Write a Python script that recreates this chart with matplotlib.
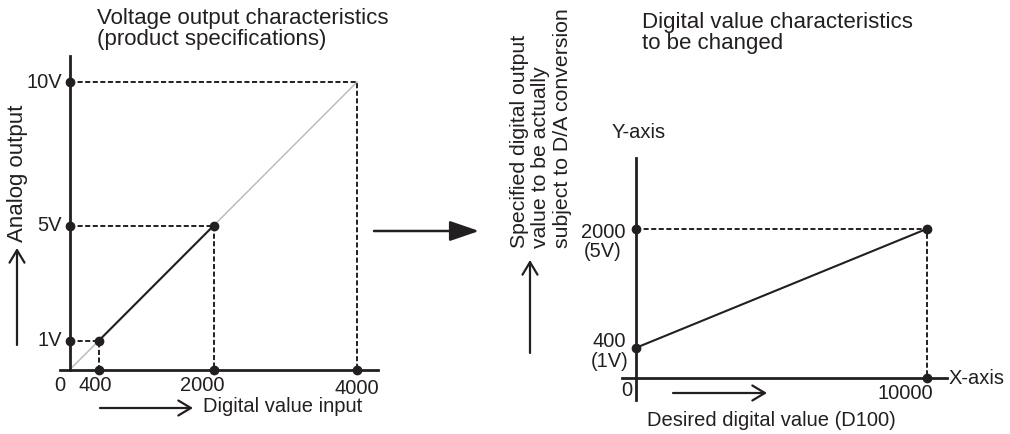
import matplotlib
matplotlib.use("Agg")
import matplotlib.pyplot as plt

plt.rcParams['font.family'] = ['Liberation Sans', 'DejaVu Sans']

INK = '#231f20'

# ---- data: voltage output characteristics (product specs)
spec_x = [0, 4000]          # digital input range
spec_y = [0, 10]            # analog output (V)
used_x = [400, 2000]        # part actually used
used_y = [1, 5]
left_xticks = [400, 2000, 4000]
left_xlabels = ['400', '2000', '4000']
left_yticks = [1, 5, 10]
left_ylabels = ['1V', '5V', '10V']

# ---- data: digital value characteristics to be changed
new_x = [0, 10000]          # desired digital value (D100)
new_y = [400, 2000]         # digital output actually converted
right_ylabels = ['400\n(1V)', '2000\n(5V)']

W, H = 1010, 434
fig = plt.figure(figsize=(W / 100, H / 100), dpi=100)


def pixel_axes(x0, y0, px_x, px_y, xlim, ylim):
    # x0, y0 = pixel position of the data origin (from top-left)
    left = x0 + xlim[0] * px_x
    right = x0 + xlim[1] * px_x
    top = y0 - ylim[1] * px_y
    bottom = y0 - ylim[0] * px_y
    ax = fig.add_axes([left / W, 1 - bottom / H, (right - left) / W, (bottom - top) / H])
    ax.set_xlim(xlim)
    ax.set_ylim(ylim)
    ax.patch.set_visible(False)
    for s in ['top', 'right']:
        ax.spines[s].set_visible(False)
    for s in ['left', 'bottom']:
        ax.spines[s].set_position(('data', 0))
        ax.spines[s].set_linewidth(2.0)
        ax.spines[s].set_color(INK)
    ax.set_xticks([])
    ax.set_yticks([])
    return ax


dash = dict(color=INK, lw=1.4, dashes=(2.6, 1.3))
dot = dict(marker='o', ms=6, color=INK, ls='none', clip_on=False, zorder=5)
fs = 14.5

# ================= left diagram
axl = pixel_axes(70, 369.5, 287 / 4000, 28.75, (-140, 4290), (0, 10.9))
axl.plot(spec_x, spec_y, color='#bdbdbd', lw=1.1, clip_on=False)
for xv, yv in zip([used_x[0], used_x[1], spec_x[1]], [used_y[0], used_y[1], spec_y[1]]):
    axl.plot([0, xv, xv], [yv, yv, 0], clip_on=False, **dash)
axl.plot(used_x, used_y, color=INK, lw=1.5, clip_on=False)
axl.plot([0] * len(left_yticks), left_yticks, **dot)
axl.plot(left_xticks, [0] * len(left_xticks), **dot)
axl.plot(used_x, used_y, **dot)

for yv, lab in zip(left_yticks, left_ylabels):
    axl.annotate(lab, (0, yv), xytext=(-8, 0), textcoords='offset pixels',
                 ha='right', va='center', fontsize=fs, color=INK)
axl.annotate('0', (0, 0), xytext=(-10, -16), textcoords='offset pixels',
             ha='center', va='center', fontsize=fs, color=INK)
for xv, lab, off in zip(left_xticks, left_xlabels, [(-3, -16), (-11, -16), (0, -19)]):
    axl.annotate(lab, (xv, 0), xytext=off, textcoords='offset pixels',
                 ha='center', va='center', fontsize=fs, color=INK)

# ================= right diagram
axr = pixel_axes(636, 377.5, 290.5 / 10000, 148.5 / 2000, (-480, 10700), (-300, 2950))
axr.plot([0, new_x[1], new_x[1]], [new_y[1], new_y[1], 0], clip_on=False, **dash)
axr.plot(new_x, new_y, color=INK, lw=1.5, clip_on=False)
axr.plot([0, 0], new_y, **dot)
axr.plot([new_x[1], new_x[1]], [new_y[1], 0], **dot)

for yv, lab, off in zip(new_y, right_ylabels, [(-8, -4), (-11, -13)]):
    axr.annotate(lab, (0, yv), xytext=off, textcoords='offset pixels',
                 ha='right', va='center', multialignment='center',
                 fontsize=fs, color=INK, linespacing=1.05)
axr.annotate('0', (0, 0), xytext=(-9, -13), textcoords='offset pixels',
             ha='center', va='center', fontsize=fs, color=INK)
axr.annotate(str(new_x[1]), (new_x[1], 0), xytext=(-21, -16), textcoords='offset pixels',
             ha='center', va='center', fontsize=fs, color=INK)

# ================= overlay for titles, captions and arrows (pixel coords)
ov = fig.add_axes([0, 0, 1, 1])
ov.set_xlim(0, W)
ov.set_ylim(H, 0)
ov.axis('off')
ov.patch.set_visible(False)

tfs = 16
ov.text(97, 8, 'Voltage output characteristics\n(product specifications)',
        ha='left', va='top', fontsize=tfs, color=INK, linespacing=1.0)
ov.text(642, 12, 'Digital value characteristics\nto be changed',
        ha='left', va='top', fontsize=tfs, color=INK, linespacing=1.0)
ov.text(18, 173, 'Analog output', rotation=90, ha='center', va='center',
        fontsize=tfs, color=INK)
ov.text(541, 248, 'Specified digital output\nvalue to be actually\nsubject to D/A conversion',
        rotation=90, ha='center', va='bottom', multialignment='left',
        fontsize=15.3, color=INK, linespacing=1.15)
ov.text(612, 132, 'Y-axis', ha='left', va='center', fontsize=fs, color=INK)
ov.text(949, 379, 'X-axis', ha='left', va='center', fontsize=fs, color=INK)
ov.text(203, 406, 'Digital value input', ha='left', va='center', fontsize=fs, color=INK)
ov.text(647, 420, 'Desired digital value (D100)', ha='left', va='center', fontsize=fs, color=INK)

open_arrow = dict(arrowstyle='->,head_length=0.45,head_width=0.27', lw=1.6,
                  color=INK, shrinkA=0, shrinkB=0, mutation_scale=20)
for start, end in [((17, 345), (17, 248)), ((100, 408), (193, 408)),
                   ((530, 353), (530, 260)), ((673, 393), (767, 393))]:
    ov.annotate('', xy=end, xytext=start, arrowprops=open_arrow)

ov.annotate('', xy=(479, 231), xytext=(374, 231),
            arrowprops=dict(arrowstyle='-|>,head_length=0.9,head_width=0.31', lw=1.8,
                            color=INK, shrinkA=0, shrinkB=0, mutation_scale=20))

fig.savefig('out.png', dpi=100)
